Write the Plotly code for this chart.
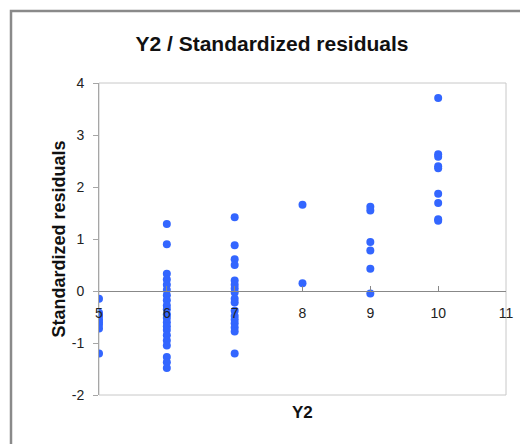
import plotly.graph_objects as go

# Data
x5 = [-0.15, -0.42, -0.48, -0.55, -0.60, -0.65, -0.72, -1.20]
x6 = [1.29, 0.90, 0.33, 0.22, 0.12, 0.02, -0.08, -0.18, -0.28, -0.35, -0.45,
      -0.52, -0.60, -0.68, -0.75, -0.85, -0.95, -1.05, -1.27, -1.37, -1.48]
x7 = [1.42, 0.88, 0.61, 0.50, 0.20, 0.12, 0.05, -0.03, -0.15, -0.22, -0.38,
      -0.48, -0.55, -0.62, -0.70, -0.78, -1.20]
x8 = [1.66, 0.15]
x9 = [1.62, 1.55, 0.94, 0.78, 0.43, -0.05]
x10 = [3.71, 2.63, 2.58, 2.40, 2.36, 1.87, 1.69, 1.38, 1.35]

groups = {5: x5, 6: x6, 7: x7, 8: x8, 9: x9, 10: x10}
xs, ys = [], []
for k, vals in groups.items():
    xs += [k] * len(vals)
    ys += vals

x_ticks = [5, 6, 7, 8, 9, 10, 11]
y_ticks = [-2, -1, 0, 1, 2, 3, 4]
y_tick_labels = ["-2", "-1", "0", "1", "2", "3", "4"]

FONT = "Liberation Sans, Arial, sans-serif"

# page has an 8px body margin; compensate so the plot lands where the reference has it
OFF = 8
W, H = 528 - OFF, 444 - OFF

fig = go.Figure(go.Scatter(
    x=xs, y=ys, mode="markers",
    marker=dict(color="#3366FF", size=8),
    showlegend=False,
))

fig.update_layout(
    width=W, height=H,
    margin=dict(l=99 - OFF, r=22, t=83 - OFF, b=49),
    paper_bgcolor="white", plot_bgcolor="white",
    font=dict(family=FONT, color="#222", size=14),
    title=dict(text="<b>Y2 / Standardized residuals</b>", x=(272 - OFF) / W, xanchor="center",
               y=1 - (44 - OFF) / H, yanchor="middle", font=dict(size=21, color="#111")),
    xaxis=dict(range=[5, 11], tickvals=x_ticks, showgrid=False, zeroline=False,
               anchor="free", position=1 / 3, showline=True, linecolor="#888", linewidth=1,
               ticks="inside", ticklen=5, tickcolor="#888", ticklabelstandoff=9,
               tickfont=dict(size=14, color="#222")),
    yaxis=dict(range=[-2, 4], tickvals=y_ticks, ticktext=y_tick_labels,
               showgrid=False, zeroline=False,
               showline=True, linecolor="#a6a6a6", linewidth=1,
               ticks="outside", ticklen=5, tickcolor="#a6a6a6", ticklabelstandoff=6,
               tickfont=dict(size=14, color="#222"),
               title=dict(text="<b>Standardized residuals</b>", font=dict(size=18, color="#111"),
                          standoff=1)),
    shapes=[
        dict(type="rect", xref="paper", yref="paper", x0=0, x1=1, y0=0, y1=1,
             line=dict(color="#c8c8c8", width=1), layer="below"),
        dict(type="rect", xref="paper", yref="paper",
             x0=(11 - 99) / 407, x1=1.2, y0=-0.3, y1=(395 - 11) / 312,
             line=dict(color="#8a8a8a", width=2.5)),
    ],
    annotations=[
        dict(text="<b>Y2</b>", xref="paper", yref="paper", x=0.5, y=-17 / 312,
             xanchor="center", yanchor="middle", showarrow=False,
             font=dict(size=17, color="#111")),
    ],
)

fig.write_html("out.html")
